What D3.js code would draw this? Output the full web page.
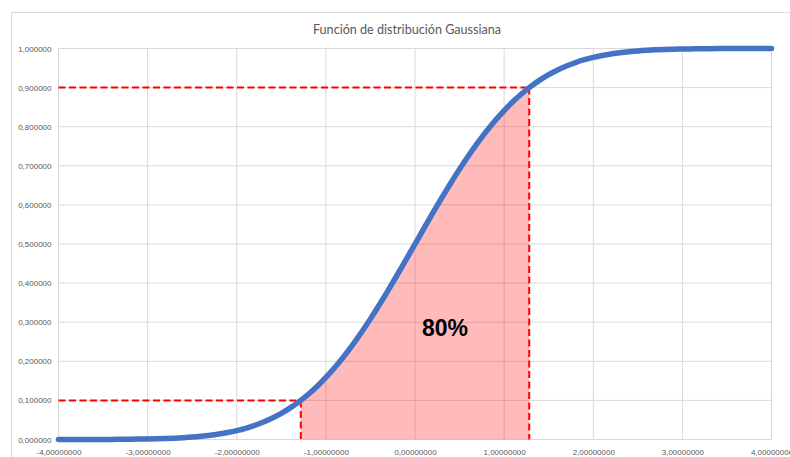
<!DOCTYPE html>
<html>
<head>
<meta charset="utf-8">
<script src="https://cdn.jsdelivr.net/npm/d3@7"></script>
<style>
  html, body { margin: 0; padding: 0; background: #fff; }
  svg { display: block; }
</style>
</head>
<body>
<svg id="chart" width="790" height="457"></svg>
<script>
// ---- Data (standard normal CDF, step 0.1) ----
const xValues = [
  -4.0,-3.9,-3.8,-3.7,-3.6,-3.5,-3.4,-3.3,-3.2,-3.1,
  -3.0,-2.9,-2.8,-2.7,-2.6,-2.5,-2.4,-2.3,-2.2,-2.1,
  -2.0,-1.9,-1.8,-1.7,-1.6,-1.5,-1.4,-1.3,-1.2,-1.1,
  -1.0,-0.9,-0.8,-0.7,-0.6,-0.5,-0.4,-0.3,-0.2,-0.1,
   0.0, 0.1, 0.2, 0.3, 0.4, 0.5, 0.6, 0.7, 0.8, 0.9,
   1.0, 1.1, 1.2, 1.3, 1.4, 1.5, 1.6, 1.7, 1.8, 1.9,
   2.0, 2.1, 2.2, 2.3, 2.4, 2.5, 2.6, 2.7, 2.8, 2.9,
   3.0, 3.1, 3.2, 3.3, 3.4, 3.5, 3.6, 3.7, 3.8, 3.9, 4.0
];
const cdfValues = [
  0.0000,0.0000,0.0001,0.0001,0.0002,0.0002,0.0003,0.0005,0.0007,0.0010,
  0.0013,0.0019,0.0026,0.0035,0.0047,0.0062,0.0082,0.0107,0.0139,0.0179,
  0.0228,0.0287,0.0359,0.0446,0.0548,0.0668,0.0808,0.0968,0.1151,0.1357,
  0.1587,0.1841,0.2119,0.2420,0.2743,0.3085,0.3446,0.3821,0.4207,0.4602,
  0.5000,0.5398,0.5793,0.6179,0.6554,0.6915,0.7257,0.7580,0.7881,0.8159,
  0.8413,0.8643,0.8849,0.9032,0.9192,0.9332,0.9452,0.9554,0.9641,0.9713,
  0.9772,0.9821,0.9861,0.9893,0.9918,0.9938,0.9953,0.9965,0.9974,0.9981,
  0.9987,0.9990,0.9993,0.9995,0.9997,0.9998,0.9998,0.9999,0.9999,1.0000,1.0000
];
// Shaded interval (central 80%)
const boundX = [-1.2816, 1.2816];
const boundP = [0.1, 0.9];
const shadeLabel = "80%";
const titleText = "Función de distribución Gaussiana";
const xTicks = [-4, -3, -2, -1, 0, 1, 2, 3, 4];
const yTicks = [0, 0.1, 0.2, 0.3, 0.4, 0.5, 0.6, 0.7, 0.8, 0.9, 1.0];

// ---- Layout ----
const svg = d3.select("#chart");
const x = d3.scaleLinear().domain([-4, 4]).range([58.5, 771.5]);
const y = d3.scaleLinear().domain([0, 1]).range([439.5, 48.5]);

const locale = d3.formatLocale({decimal: ",", thousands: ".", grouping: [3], currency: ["", "€"], minus: "-"});
const fx = locale.format(".8f");
const fy = locale.format(".6f");

// Outer chart border
svg.append("rect")
  .attr("x", 11.5).attr("y", 12.5).attr("width", 800).attr("height", 460)
  .attr("fill", "#fff").attr("stroke", "#d9d9d9").attr("stroke-width", 1);

// Title
svg.append("text")
  .attr("x", 407).attr("y", 34)
  .attr("text-anchor", "middle")
  .attr("font-family", "Lato, 'Open Sans', sans-serif")
  .attr("font-size", 12.6)
  .attr("fill", "#595959")
  .text(titleText);

// Gridlines
const grid = svg.append("g");
grid.selectAll("line.h").data(yTicks).enter().append("line")
  .attr("x1", x(-4)).attr("x2", x(4))
  .attr("y1", d => y(d)).attr("y2", d => y(d))
  .attr("stroke", "#d9d9d9").attr("stroke-width", 1);
grid.selectAll("line.v").data(xTicks).enter().append("line")
  .attr("x1", d => x(d)).attr("x2", d => x(d))
  .attr("y1", y(0)).attr("y2", y(1))
  .attr("stroke", "#d9d9d9").attr("stroke-width", 1);

// Axis labels
const xAxis = d3.axisBottom(x).tickValues(xTicks).tickFormat(fx).tickSize(0).tickPadding(10);
const gx = svg.append("g").attr("transform", `translate(0,${y(0)})`).call(xAxis);
gx.select(".domain").remove();
gx.selectAll("text").attr("font-family", "'Liberation Sans', Arial, sans-serif")
  .attr("font-size", 8).attr("fill", "#595959");

const yAxis = d3.axisLeft(y).tickValues(yTicks).tickFormat(fy).tickSize(0).tickPadding(7);
const gy = svg.append("g").attr("transform", `translate(${x(-4)},0)`).call(yAxis);
gy.select(".domain").remove();
gy.selectAll("text").attr("font-family", "'Liberation Sans', Arial, sans-serif")
  .attr("font-size", 8).attr("fill", "#595959");

// Data points
const pts = xValues.map((v, i) => ({x: v, p: cdfValues[i]}));

// Shaded area
const inner = pts.filter(d => d.x > boundX[0] && d.x < boundX[1]);
const shadePts = [{x: boundX[0], p: boundP[0]}, ...inner, {x: boundX[1], p: boundP[1]}];
svg.append("path")
  .datum(shadePts)
  .attr("d", d3.area().x(d => x(d.x)).y0(y(0)).y1(d => y(d.p)).curve(d3.curveMonotoneX))
  .attr("fill", "#ff0000").attr("fill-opacity", 0.27);

// Dashed guide lines
const dash = svg.append("g").attr("stroke", "#ff0000").attr("stroke-width", 2)
  .attr("stroke-dasharray", "7,3.5").attr("fill", "none");
boundX.forEach((bx, i) => {
  dash.append("line").attr("x1", x(-4)).attr("x2", x(bx))
    .attr("y1", y(boundP[i])).attr("y2", y(boundP[i]));
  dash.append("line").attr("x1", x(bx)).attr("x2", x(bx))
    .attr("y1", y(boundP[i])).attr("y2", y(0));
});

// Curve (dense markers rendered as a thick line)
svg.append("path")
  .datum(pts)
  .attr("d", d3.line().x(d => x(d.x)).y(d => y(d.p)).curve(d3.curveMonotoneX))
  .attr("fill", "none").attr("stroke", "#4472c4").attr("stroke-width", 5.5)
  .attr("stroke-linecap", "round").attr("stroke-linejoin", "round");

// Label
svg.append("text")
  .attr("x", 445).attr("y", 336)
  .attr("text-anchor", "middle")
  .attr("font-family", "'Liberation Sans', Arial, sans-serif")
  .attr("font-weight", "bold")
  .attr("font-size", 23)
  .attr("fill", "#000")
  .text(shadeLabel);
</script>
</body>
</html>
